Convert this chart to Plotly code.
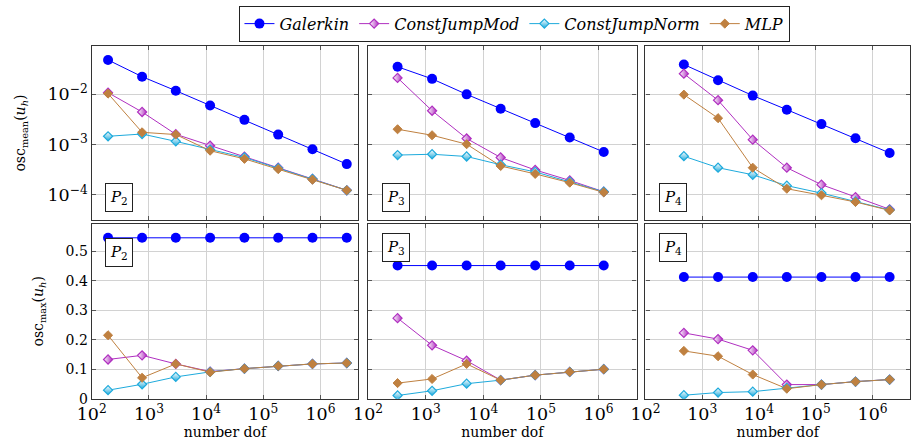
import plotly.graph_objects as go

# ---------------- data ----------------
dof_p2 = [193, 760, 2950, 11750, 46800, 182000, 724000, 2880000]
dof_p3 = [325, 1290, 5130, 20000, 79400, 316000, 1230000]
dof_p4 = [475, 1900, 7760, 30900, 126000, 501000, 2000000]

# osc_mean
mean_gal_p2 = [0.0474, 0.0221, 0.01164, 0.00594, 0.00307, 0.001567, 0.0008, 0.000407]
mean_mod_p2 = [0.01065, 0.0044, 0.00159, 0.000944, 0.000575, 0.000345, 0.000206, 0.000123]
mean_norm_p2 = [0.00145, 0.00161, 0.00115, 0.000791, 0.00055, 0.000337, 0.000206, 0.000123]
mean_mlp_p2 = [0.0102, 0.00174, 0.00157, 0.00075, 0.000517, 0.000324, 0.0002, 0.000123]

mean_gal_p3 = [0.0347, 0.0200, 0.00986, 0.00510, 0.00265, 0.00137, 0.000708]
mean_mod_p3 = [0.0209, 0.00466, 0.00131, 0.00055, 0.000311, 0.000193, 0.000115]
mean_norm_p3 = [0.000615, 0.000638, 0.000576, 0.000395, 0.000285, 0.000182, 0.000115]
mean_mlp_p3 = [0.0020, 0.00152, 0.00101, 0.000373, 0.00026, 0.000174, 0.000112]

mean_gal_p4 = [0.0385, 0.01875, 0.00931, 0.00489, 0.00253, 0.00133, 0.000677]
mean_mod_p4 = [0.0253, 0.00754, 0.00124, 0.000345, 0.000159, 0.0000897, 0.0000516]
mean_norm_p4 = [0.000583, 0.000345, 0.000250, 0.000152, 0.000108, 0.000074, 0.000050]
mean_mlp_p4 = [0.00973, 0.00332, 0.000345, 0.000132, 0.000098, 0.000072, 0.000049]

# osc_max
max_gal_p2 = [0.545, 0.545, 0.545, 0.545, 0.545, 0.545, 0.545, 0.545]
max_mod_p2 = [0.133, 0.147, 0.118, 0.092, 0.102, 0.111, 0.118, 0.121]
max_norm_p2 = [0.029, 0.049, 0.074, 0.091, 0.102, 0.111, 0.118, 0.121]
max_mlp_p2 = [0.215, 0.071, 0.118, 0.090, 0.102, 0.111, 0.118, 0.121]

max_gal_p3 = [0.451, 0.451, 0.451, 0.451, 0.451, 0.451, 0.451]
max_mod_p3 = [0.273, 0.181, 0.129, 0.063, 0.080, 0.091, 0.100]
max_norm_p3 = [0.011, 0.027, 0.051, 0.063, 0.080, 0.091, 0.100]
max_mlp_p3 = [0.053, 0.067, 0.118, 0.063, 0.080, 0.091, 0.100]

max_gal_p4 = [0.412, 0.412, 0.412, 0.412, 0.412, 0.412, 0.412]
max_mod_p4 = [0.223, 0.202, 0.164, 0.048, 0.048, 0.058, 0.065]
max_norm_p4 = [0.012, 0.021, 0.024, 0.037, 0.048, 0.058, 0.065]
max_mlp_p4 = [0.162, 0.144, 0.082, 0.034, 0.048, 0.058, 0.065]

series_names = ["Galerkin", "ConstJumpMod", "ConstJumpNorm", "MLP"]
panel_subs = ["2", "3", "4"]
max_ticks = [0, 0.1, 0.2, 0.3, 0.4, 0.5]
max_ticktext = ["0", "0.1", "0.2", "0.3", "0.4", "0.5"]

# ---------------- styling ----------------
FONT = "DejaVu Serif"
C_GAL = "#0000ff"
C_MOD = "#b030c0"
C_NORM = "#1eaadc"
C_MLP = "#bf8040"

W, H = 911, 448
xdoms = [(78 / W, 349 / W), (359 / W, 632 / W), (641 / W, 910 / W)]
ydom_top = (1 - 224 / H, 1 - 47 / H)
ydom_bot = (1 - 406 / H, 1 - 228 / H)


def ax(letter, n):
    return letter if n == 1 else "%s%d" % (letter, n)


def style(i):
    if i == 0:
        return dict(line=dict(color=C_GAL, width=1),
                    marker=dict(symbol="circle", size=10, color=C_GAL,
                                line=dict(width=0)))
    if i == 1:
        return dict(line=dict(color=C_MOD, width=1),
                    marker=dict(symbol="diamond", size=7, color="white",
                                gradient=dict(type="horizontal", color=C_MOD),
                                line=dict(color=C_MOD, width=1.2)))
    if i == 2:
        return dict(line=dict(color=C_NORM, width=1),
                    marker=dict(symbol="diamond", size=7, color="white",
                                gradient=dict(type="vertical", color=C_NORM),
                                line=dict(color=C_NORM, width=1.2)))
    return dict(line=dict(color=C_MLP, width=1),
                marker=dict(symbol="diamond", size=7, color=C_MLP,
                            line=dict(color=C_MLP, width=1)))


panels = [
    (dof_p2, [mean_gal_p2, mean_mod_p2, mean_norm_p2, mean_mlp_p2],
     [max_gal_p2, max_mod_p2, max_norm_p2, max_mlp_p2]),
    (dof_p3, [mean_gal_p3, mean_mod_p3, mean_norm_p3, mean_mlp_p3],
     [max_gal_p3, max_mod_p3, max_norm_p3, max_mlp_p3]),
    (dof_p4, [mean_gal_p4, mean_mod_p4, mean_norm_p4, mean_mlp_p4],
     [max_gal_p4, max_mod_p4, max_norm_p4, max_mlp_p4]),
]

fig = go.Figure()
layout = {}
annotations = []
TF = dict(family=FONT, size=14, color="black")

for c, (dof, means, maxs) in enumerate(panels):
    top = c + 1
    bot = c + 4
    for i in range(4):
        fig.add_trace(go.Scatter(
            x=dof, y=means[i], mode="lines+markers",
            name="<i>" + series_names[i] + "</i>",
            showlegend=(c == 0), legendgroup=series_names[i],
            xaxis=ax("x", top), yaxis=ax("y", top), **style(i)))
    for i in range(4):
        fig.add_trace(go.Scatter(
            x=dof, y=maxs[i], mode="lines+markers",
            name="<i>" + series_names[i] + "</i>", showlegend=False,
            legendgroup=series_names[i],
            xaxis=ax("x", bot), yaxis=ax("y", bot), **style(i)))

    common_x = dict(type="log", range=[2, 6.66], tickmode="linear",
                    tick0=0, dtick=1,
                    exponentformat="power", showexponent="all",
                    showgrid=True, gridcolor="#d2d2d2", gridwidth=1,
                    showline=True, linecolor="#333333", linewidth=1.2,
                    mirror="ticks", ticks="inside", ticklen=4,
                    tickcolor="#555555", tickfont=TF,
                    zeroline=False, domain=list(xdoms[c]))
    common_y = dict(showgrid=True, gridcolor="#d2d2d2", gridwidth=1,
                    showline=True, linecolor="#333333", linewidth=1.2,
                    mirror="ticks", ticks="inside", ticklen=4,
                    tickcolor="#555555", tickfont=TF,
                    zeroline=False)

    xt = dict(common_x, anchor=ax("y", top), showticklabels=False)
    xb = dict(common_x, anchor=ax("y", bot), showticklabels=True,
              title=dict(text="number dof", standoff=0, font=TF))
    yt = dict(common_y, type="log", range=[-4.5, -1.05], tickmode="linear",
              tick0=0, dtick=1, exponentformat="power", showexponent="all",
              anchor=ax("x", top), domain=list(ydom_top),
              showticklabels=(c == 0))
    yb = dict(common_y, range=[0, 0.592], tickmode="array",
              tickvals=max_ticks, ticktext=max_ticktext,
              anchor=ax("x", bot), domain=list(ydom_bot),
              showticklabels=(c == 0))
    if c == 0:
        yt["title"] = dict(text="osc<sub>mean</sub>(<i>u</i><sub><i>h</i></sub>)",
                           standoff=18, font=TF)
        yb["title"] = dict(text="osc<sub>max</sub>(<i>u</i><sub><i>h</i></sub>)",
                           standoff=18, font=TF)
    layout[ax("xaxis", top)] = xt
    layout[ax("xaxis", bot)] = xb
    layout[ax("yaxis", top)] = yt
    layout[ax("yaxis", bot)] = yb

    box = dict(text="<i>P</i><sub>" + panel_subs[c] + "</sub>",
               showarrow=False, xanchor="left",
               bordercolor="#222222", borderwidth=1, borderpad=4,
               bgcolor="white",
               font=dict(family=FONT, size=15, color="black"))
    annotations.append(dict(box, xref=ax("x", top) + " domain",
                            yref=ax("y", top) + " domain",
                            x=0.05, y=0.045, yanchor="bottom"))
    annotations.append(dict(box, xref=ax("x", bot) + " domain",
                            yref=ax("y", bot) + " domain",
                            x=0.05, y=0.95 if c else 0.92, yanchor="top"))

fig.update_layout(**layout)
fig.update_layout(
    width=W, height=H,
    margin=dict(l=0, r=0, t=0, b=0),
    paper_bgcolor="white", plot_bgcolor="white",
    annotations=annotations,
    font=dict(family=FONT, size=14, color="black"),
    legend=dict(orientation="h", x=0.558, xanchor="center", y=0.987,
                yanchor="top", bordercolor="#222222", borderwidth=1,
                bgcolor="white", font=dict(family=FONT, size=16, color="black"),
                itemwidth=30, tracegroupgap=0),
)

fig.write_html("out.html")
